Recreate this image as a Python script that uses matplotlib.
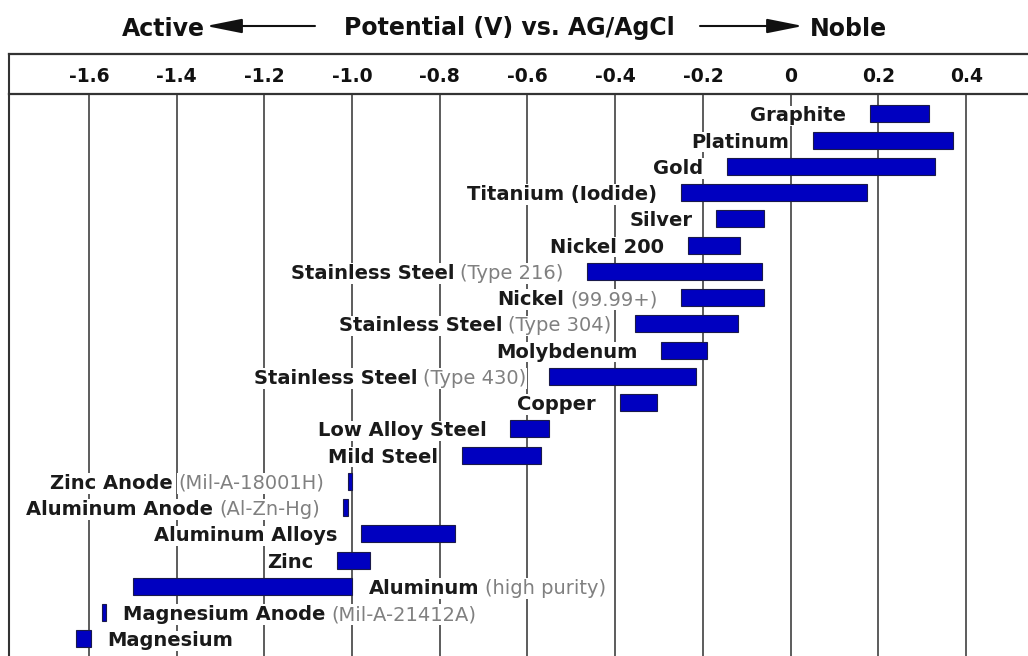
import numpy as np
import matplotlib
matplotlib.use("Agg")
import matplotlib.pyplot as plt
from matplotlib.patches import FancyArrowPatch

# Galvanic series in seawater (potential vs. Ag/AgCl)
names = ["Graphite", "Platinum", "Gold", "Titanium (Iodide)", "Silver",
         "Nickel 200", "Stainless Steel", "Nickel", "Stainless Steel",
         "Molybdenum", "Stainless Steel", "Copper", "Low Alloy Steel",
         "Mild Steel", "Zinc Anode", "Aluminum Anode", "Aluminum Alloys",
         "Zinc", "Aluminum", "Magnesium Anode", "Magnesium"]
notes = ["", "", "", "", "", "", "(Type 216)", "(99.99+)", "(Type 304)",
         "", "(Type 430)", "", "", "", "(Mil-A-18001H)", "(Al-Zn-Hg)", "",
         "", "(high purity)", "(Mil-A-21412A)", ""]
v_low = [0.18, 0.05, -0.145, -0.25, -0.17, -0.235, -0.465, -0.25, -0.355,
         -0.295, -0.55, -0.39, -0.64, -0.75, -1.01, -1.02, -0.98, -1.035,
         -1.50, -1.57, -1.63]
v_high = [0.315, 0.37, 0.33, 0.175, -0.06, -0.115, -0.065, -0.06, -0.12,
          -0.19, -0.215, -0.305, -0.55, -0.57, -1.0, -1.01, -0.765, -0.96,
          -1.0, -1.56, -1.595]
tick_vals = [-1.6, -1.4, -1.2, -1.0, -0.8, -0.6, -0.4, -0.2, 0, 0.2, 0.4]
tick_text = ["-1.6", "-1.4", "-1.2", "-1.0", "-0.8", "-0.6", "-0.4", "-0.2",
             "0", "0.2", "0.4"]

W, H = 1028, 656
fig = plt.figure(figsize=(W / 100, H / 100), dpi=100)

left = 9 / W
top_main = 1 - 94 / H
# header box first, so the plot axes (and its tick labels) draw on top
head = fig.add_axes([left, top_main, 1 - left, 40 / H])
ax = fig.add_axes([left, 0, 1 - left, top_main])
head.patch.set_visible(False)
ax.patch.set_visible(False)

xmin, xmax = -1.782, 0.541
ax.set_xlim(xmin, xmax)
head.set_xlim(xmin, xmax)
ax.set_ylim(len(names) - 1 + 0.65, -0.76)

frame_col = "#333333"
for a in (ax, head):
    a.spines["right"].set_visible(False)
    a.spines["bottom"].set_visible(False)
    a.spines["left"].set_color(frame_col)
    a.spines["left"].set_linewidth(1.5)
    a.spines["top"].set_color(frame_col)
    a.spines["top"].set_linewidth(1.6)
head.set_xticks([])
head.set_yticks([])

# tick labels sit in the header box, grid lines only in the plot
ax.set_xticks(tick_vals)
ax.set_xticklabels(tick_text, fontsize=13.5, fontweight="bold", color="#111111")
ax.xaxis.tick_top()
ax.tick_params(axis="x", length=0, pad=5.5)
ax.set_yticks([])
ax.grid(axis="x", color="#5c5c5c", lw=1.4)
ax.set_axisbelow(True)

y = np.arange(len(names))
widths = np.array(v_high) - np.array(v_low)
ax.barh(y, widths, left=v_low, height=0.65, color="#0000c0",
        edgecolor="#1a1a4a", lw=0.8, zorder=3)

bold_kw = dict(fontsize=14, fontweight="bold", color="#1a1a1a", zorder=4,
               bbox=dict(facecolor="white", edgecolor="none", pad=0.5))
gray_kw = dict(fontsize=14, color="#808080", zorder=4,
               bbox=dict(facecolor="white", edgecolor="none", pad=0.5))

for i in range(len(names)):
    lo, hi = v_low[i], v_high[i]
    if lo > -1.3:
        # label on the left of the bar
        if notes[i]:
            t = ax.annotate(notes[i], xy=(lo, i), xytext=(-17, 0),
                            textcoords="offset points", ha="right",
                            va="center_baseline", **gray_kw)
            ax.annotate(names[i], xy=(0, 0), xycoords=t, xytext=(-4, 0),
                        textcoords="offset points", ha="right", va="bottom",
                        **bold_kw)
        else:
            ax.annotate(names[i], xy=(lo, i), xytext=(-17, 0),
                        textcoords="offset points", ha="right",
                        va="center_baseline", **bold_kw)
    else:
        # no room on the left, label goes right
        t = ax.annotate(names[i], xy=(hi, i), xytext=(12, 0),
                        textcoords="offset points", ha="left",
                        va="center_baseline", **bold_kw)
        if notes[i]:
            ax.annotate(notes[i], xy=(1, 0), xycoords=t, xytext=(4, 0),
                        textcoords="offset points", ha="left", va="bottom",
                        **gray_kw)

# title with arrows
ty = 1 - 26 / H
fig.text(205 / W, ty, "Active", ha="right", va="center_baseline",
         fontsize=17, fontweight="bold", color="#111111")
fig.text(509 / W, ty, "Potential (V) vs. AG/AgCl", ha="center",
         va="center_baseline", fontsize=17, fontweight="bold", color="#111111")
fig.text(810 / W, ty, "Noble", ha="left", va="center_baseline",
         fontsize=17, fontweight="bold", color="#111111")
for x0, x1 in [(315, 206), (700, 803)]:
    fig.add_artist(FancyArrowPatch((x0 / W, ty), (x1 / W, ty),
                                   transform=fig.transFigure,
                                   arrowstyle="-|>,head_length=1.1,head_width=0.22",
                                   mutation_scale=20, lw=1.5, color="#111111",
                                   shrinkA=0, shrinkB=0))

fig.savefig("out.png", dpi=100)
